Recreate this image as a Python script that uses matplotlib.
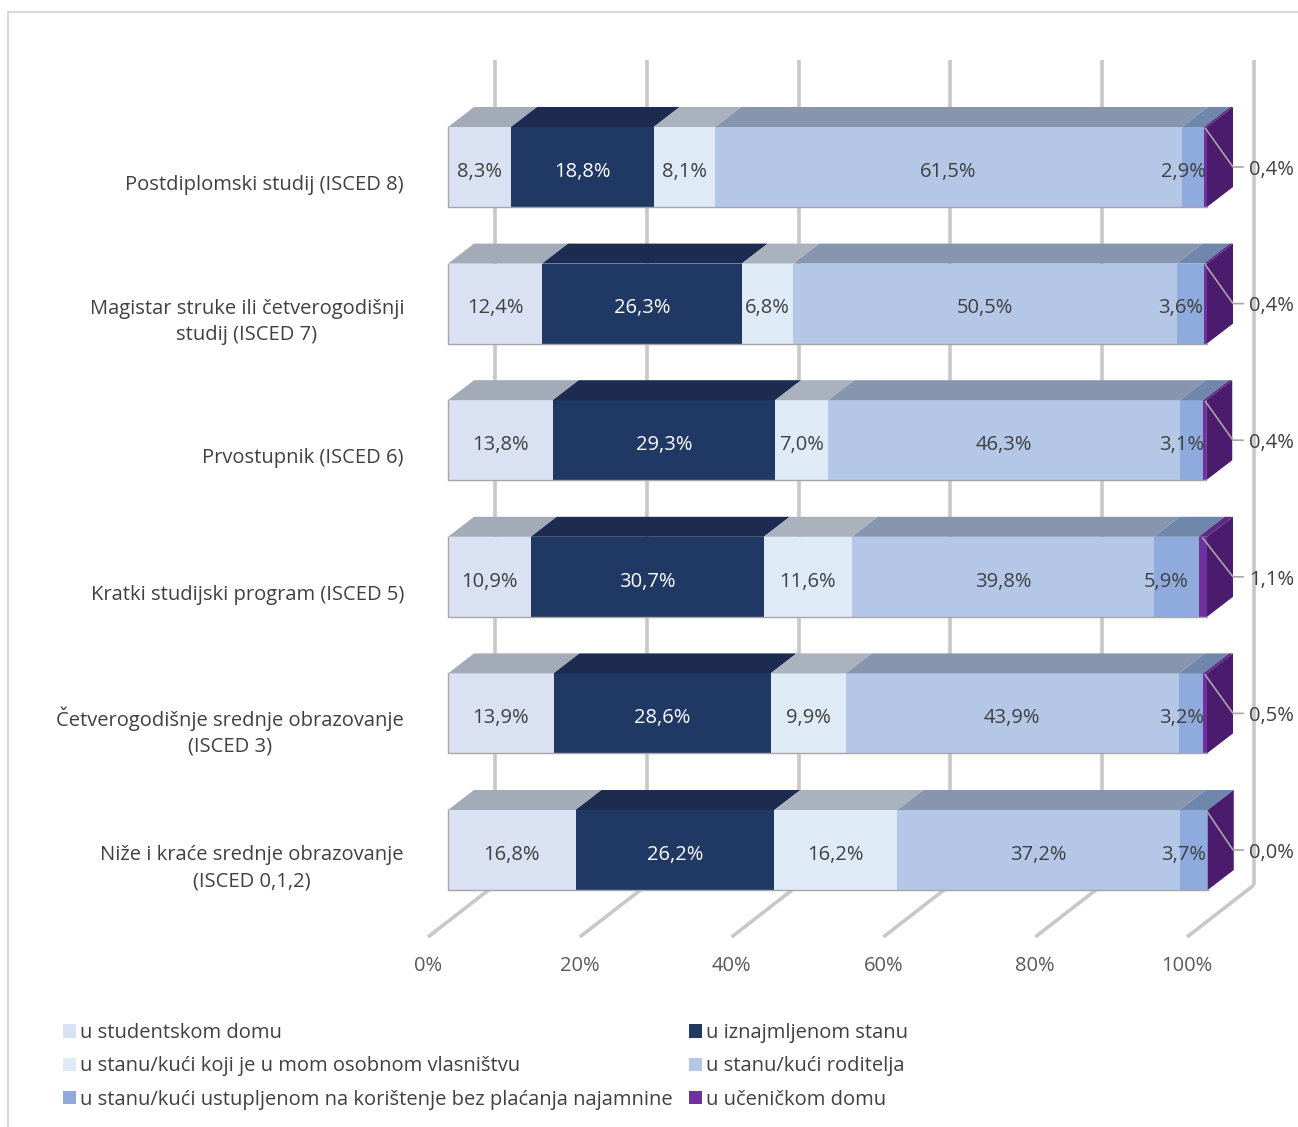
import matplotlib
matplotlib.use("Agg")
import matplotlib.pyplot as plt
from matplotlib.patches import Polygon, Patch, Rectangle
import numpy as np

plt.rcParams['font.family'] = ['Open Sans', 'DejaVu Sans']

categories = [
    "Postdiplomski studij (ISCED 8)",
    "Magistar struke ili četverogodišnji\nstudij (ISCED 7)",
    "Prvostupnik (ISCED 6)",
    "Kratki studijski program (ISCED 5)",
    "Četverogodišnje srednje obrazovanje\n(ISCED 3)",
    "Niže i kraće srednje obrazovanje\n(ISCED 0,1,2)",
]
series_names = [
    "u studentskom domu",
    "u iznajmljenom stanu",
    "u stanu/kući koji je u mom osobnom vlasništvu",
    "u stanu/kući roditelja",
    "u stanu/kući ustupljenom na korištenje bez plaćanja najamnine",
    "u učeničkom domu",
]
studentski = [8.3, 12.4, 13.8, 10.9, 13.9, 16.8]
iznajmljeni = [18.8, 26.3, 29.3, 30.7, 28.6, 26.2]
vlastiti = [8.1, 6.8, 7.0, 11.6, 9.9, 16.2]
roditelji = [61.5, 50.5, 46.3, 39.8, 43.9, 37.2]
ustupljeni = [2.9, 3.6, 3.1, 5.9, 3.2, 3.7]
ucenicki = [0.4, 0.4, 0.4, 1.1, 0.5, 0.0]
ticks = [0, 20, 40, 60, 80, 100]
tick_labels = ["0%", "20%", "40%", "60%", "80%", "100%"]

data = [studentski, iznajmljeni, vlastiti, roditelji, ustupljeni, ucenicki]
front_cols = ["#D9E1F2", "#203864", "#DEEBF7", "#B4C7E7", "#8FAADC", "#7030A0"]
top_cols = ["#A3ABB9", "#1C2B4F", "#AAB2BE", "#8796AE", "#6E87AA", "#5B2A85"]
side_col = "#4B1C6E"
text_cols = ["#404040", "#FFFFFF", "#404040", "#404040", "#404040", "#404040"]
FS = 14.5

W, H = 1298, 1127
fig = plt.figure(figsize=(W / 100, H / 100), dpi=100)
ax_left, ax_right, ax_top, ax_bot = 448, 1207, 60, 940
ax = fig.add_axes([ax_left / W, 1 - ax_bot / H, (ax_right - ax_left) / W, (ax_bot - ax_top) / H])
pxx = (ax_right - ax_left) / 100.0
pxy = 136.6
y0 = 167.0
ax.set_xlim(0, 100)
ax.set_ylim((ax_bot - y0) / pxy, (ax_top - y0) / pxy)
ax.axis('off')

fig.patches.append(Rectangle((8 / W, -0.1), 1.2, 1 - 12 / H + 0.1, transform=fig.transFigure,
                             fill=False, edgecolor="#D9D9D9", linewidth=1.5, zorder=0))

bar_h = 80 / pxy
dx = 26 / pxx
dy = 20 / pxy
back_dx = 47 / pxx
front_dx = -20 / pxx
floor_back_y = (885 - y0) / pxy
floor_front_y = (937 - y0) / pxy
wall_top_y = (ax_top - y0) / pxy
grid_col = "#C8C8C8"

for v in ticks:
    ax.plot([v + back_dx, v + back_dx], [wall_top_y, floor_back_y], color=grid_col, lw=2.6,
            clip_on=False, zorder=1, solid_capstyle='butt')
    ax.plot([v + back_dx, v + front_dx], [floor_back_y, floor_front_y], color=grid_col, lw=2.6,
            clip_on=False, zorder=1, solid_capstyle='butt')

for v, lab in zip(ticks, tick_labels):
    ax.text(v + front_dx, (966 - y0) / pxy, lab, ha='center', va='center', fontsize=FS,
            color="#595959", clip_on=False)

n = len(categories)
for i in range(n):
    left = 0.0
    top = i - bar_h / 2
    for s in range(len(data)):
        val = data[s][i]
        ax.barh(i, val, left=left, height=bar_h, color=front_cols[s], edgecolor='none',
                zorder=3, clip_on=False)
        poly = Polygon([(left, top), (left + val, top), (left + val + dx, top - dy), (left + dx, top - dy)],
                       closed=True, facecolor=top_cols[s], edgecolor='none', zorder=3, clip_on=False)
        ax.add_patch(poly)
        if s < len(data) - 1:
            cx = left + val / 2
            if s == 4:
                cx -= 1.3
            ax.text(cx, i + 0.035, f"{val:.1f}%".replace('.', ','), ha='center', va='center',
                    fontsize=FS, color=text_cols[s], zorder=5)
        left += val
    side = Polygon([(left, top), (left, top + bar_h), (left + dx, top + bar_h - dy), (left + dx, top - dy)],
                   closed=True, facecolor=side_col, edgecolor='none', zorder=3, clip_on=False)
    ax.add_patch(side)
    ax.plot([0, 0, left], [top, top + bar_h, top + bar_h], color="#A6A6A6", lw=1.0, zorder=4,
            clip_on=False)
    v = data[-1][i]
    ax.plot([100 - v / 2, 100 + dx, 100 + 36 / pxx], [top + 0.01, i, i], color="#A6A6A6", lw=1.2,
            zorder=5, clip_on=False)
    ax.text(100 + 42 / pxx, i + 0.02, f"{v:.1f}%".replace('.', ','), ha='left', va='center', fontsize=FS,
            color="#404040", zorder=5, clip_on=False)
    ax.text((404 - ax_left) / pxx, i + 18 / pxy, categories[i], ha='right', va='center',
            multialignment='center', fontsize=FS, color="#404040", clip_on=False, linespacing=1.4)

handles = [Patch(facecolor=c, edgecolor='none') for c in front_cols]
order = [0, 2, 4, 1, 3, 5]
fig.legend([handles[k] for k in order], [series_names[k] for k in order], ncol=2,
           loc='upper left', bbox_to_anchor=(55 / W, 1 - 1015 / H), frameon=False,
           fontsize=FS, handlelength=0.65, handleheight=0.65, handletextpad=0.2,
           columnspacing=0.8, labelspacing=0.66, labelcolor="#404040", borderaxespad=0)

fig.savefig("out.png", dpi=100)
